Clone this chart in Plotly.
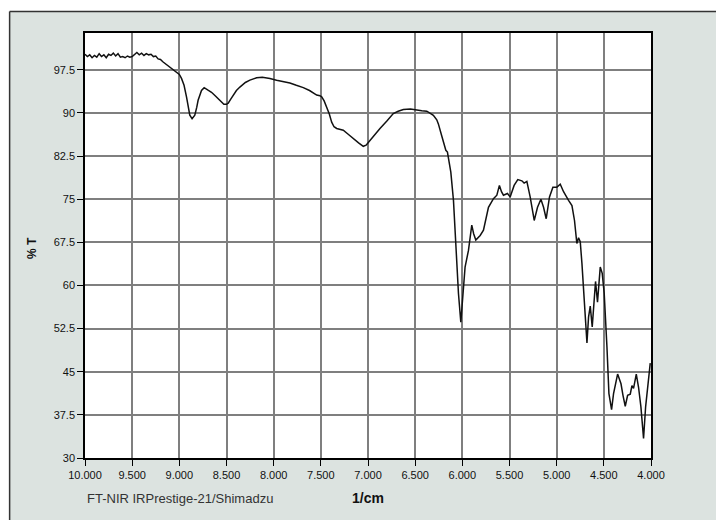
import plotly.graph_objects as go

# Wavenumbers (1/cm) and transmittance (%T)
wavenumber = [10000, 9975, 9950, 9925, 9900, 9875, 9850, 9825, 9800, 9775, 9750, 9725, 9700, 9675,
              9650, 9625, 9600, 9575, 9550, 9525, 9500, 9475, 9450, 9425, 9400, 9375, 9350, 9325,
              9300, 9275, 9250, 9225, 9200, 9175, 9150, 9125, 9100, 9075, 9050, 9030, 9000, 8977,
              8950, 8924, 8900, 8889, 8865, 8836, 8815, 8801, 8765, 8737, 8700, 8659, 8620, 8589,
              8555, 8528, 8500, 8482, 8455, 8429, 8395, 8358, 8300, 8252, 8181, 8120, 8075, 8040,
              7969, 7900, 7828, 7760, 7686, 7620, 7544, 7510, 7491, 7465, 7438, 7410, 7385, 7360,
              7332, 7262, 7210, 7156, 7100, 7050, 7020, 6979, 6930, 6873, 6800, 6732, 6680, 6625,
              6550, 6483, 6430, 6377, 6340, 6307, 6271, 6254, 6218, 6190, 6175, 6158, 6140, 6122,
              6094, 6066, 6041, 6016, 5995, 5971, 5935, 5900, 5880, 5857, 5811, 5776, 5723, 5670,
              5634, 5607, 5585, 5564, 5522, 5493, 5451, 5412, 5369, 5345, 5316, 5281, 5238, 5203,
              5167, 5139, 5111, 5076, 5040, 4998, 4962, 4927, 4874, 4838, 4811, 4786, 4768, 4750,
              4732, 4708, 4679, 4662, 4644, 4623, 4602, 4588, 4567, 4538, 4517, 4496, 4467, 4446,
              4418, 4397, 4354, 4318, 4297, 4273, 4248, 4220, 4202, 4185, 4156, 4132, 4107, 4079,
              4057, 4032, 4008]
transmittance = [100.2, 99.8, 100.1, 99.6, 100.0, 99.7, 100.3, 99.8, 100.1, 99.6, 100.2, 100.0, 100.4, 99.9,
                 100.3, 99.7, 99.8, 99.6, 99.9, 99.7, 99.8, 100.2, 100.5, 100.1, 100.4, 100.0, 100.3, 100.1,
                 100.2, 99.8, 99.9, 99.4, 99.3, 98.9, 98.6, 98.2, 98.0, 97.7, 97.4, 97.1, 96.7, 96.0,
                 94.8, 92.8, 90.5, 89.6, 89.0, 89.6, 91.0, 92.2, 93.9, 94.4, 94.0, 93.6, 93.0, 92.5,
                 91.9, 91.5, 91.5, 91.7, 92.4, 93.1, 93.9, 94.5, 95.3, 95.7, 96.1, 96.2, 96.1, 96.0,
                 95.7, 95.5, 95.2, 94.8, 94.4, 93.9, 93.1, 93.0, 92.8, 92.1, 91.0, 89.8, 88.4, 87.6,
                 87.3, 87.0, 86.3, 85.5, 84.8, 84.2, 84.4, 85.2, 86.2, 87.3, 88.6, 89.9, 90.3, 90.6,
                 90.7, 90.6, 90.4, 90.3, 90.0, 89.6, 88.8, 88.1, 86.0, 84.0, 83.5, 83.2, 81.5, 79.7,
                 74.8, 66.1, 58.6, 53.6, 58.6, 63.2, 66.1, 70.5, 69.0, 67.9, 68.7, 69.6, 73.6, 75.1,
                 75.7, 77.4, 76.3, 75.7, 76.0, 75.4, 77.4, 78.4, 78.2, 77.8, 78.1, 75.4, 71.3, 73.6,
                 75.0, 73.6, 71.6, 75.4, 77.1, 77.1, 77.6, 76.3, 74.8, 73.9, 71.3, 67.3, 68.3, 67.6,
                 63.8, 56.8, 50.0, 54.5, 56.4, 52.8, 58.6, 60.7, 57.1, 63.2, 62.1, 58.6, 49.3, 41.2,
                 38.4, 41.2, 44.6, 42.9, 40.9, 39.0, 40.9, 41.1, 42.6, 42.1, 44.6, 42.3, 38.9, 33.4,
                 38.9, 42.9, 46.5]

x_tickvals = [10000, 9500, 9000, 8500, 8000, 7500, 7000, 6500, 6000, 5500, 5000, 4500, 4000]
x_ticktext = ["10.000", "9.500", "9.000", "8.500", "8.000", "7.500", "7.000", "6.500",
              "6.000", "5.500", "5.000", "4.500", "4.000"]
y_tickvals = [30, 37.5, 45, 52.5, 60, 67.5, 75, 82.5, 90, 97.5]
y_ticktext = ["30", "37.5", "45", "52.5", "60", "67.5", "75", "82.5", "90", "97.5"]

W, H = 716, 520
# plot-area edges in pixels
L, R, T, B = 85.3, 650.7, 32.5, 457.7
pw, ph = R - L, B - T

def px(xs):
    """pixel x -> paper coordinate"""
    return (xs - L) / pw

def py(ys):
    """pixel y -> paper coordinate"""
    return (B - ys) / ph

PANEL = "#dce3e0"
tick_font = dict(family="Liberation Sans Narrow, Liberation Sans, sans-serif", size=11, color="#111")

fig = go.Figure()
fig.add_trace(go.Scatter(x=wavenumber, y=transmittance, mode="lines",
                         line=dict(color="#111111", width=1.5), showlegend=False,
                         hoverinfo="x+y"))

grid = dict(showgrid=True, gridcolor="#7f7f7f", gridwidth=1.5, zeroline=False,
            showline=True, linecolor="#000", linewidth=1.5, mirror=True,
            ticks="outside", ticklen=6, tickcolor="#000", tickwidth=1.2,
            tickfont=tick_font)

fig.update_layout(
    width=W, height=H,
    margin=dict(l=L, r=W - R, t=T, b=H - B, autoexpand=False),
    paper_bgcolor=PANEL, plot_bgcolor="white",
    xaxis=dict(range=[10000, 4000], tickvals=x_tickvals, ticktext=x_ticktext, **grid),
    yaxis=dict(range=[30, 103.9], tickvals=y_tickvals, ticktext=y_ticktext, **grid),
    shapes=[
        dict(type="rect", xref="paper", yref="paper", x0=px(-20), x1=px(W + 20),
             y0=py(11), y1=py(-20), fillcolor="white", line_width=0, layer="below"),
        dict(type="rect", xref="paper", yref="paper", x0=px(-20), x1=px(10),
             y0=py(H + 20), y1=py(-20), fillcolor="white", line_width=0, layer="below"),
        dict(type="line", xref="paper", yref="paper", x0=px(10), x1=px(W + 20),
             y0=py(11), y1=py(11), line=dict(color="#333", width=1.5)),
        dict(type="line", xref="paper", yref="paper", x0=px(10), x1=px(10),
             y0=py(11), y1=py(H + 20), line=dict(color="#333", width=1.5)),
    ],
    annotations=[
        dict(text="<b>% T</b>", xref="paper", yref="paper", x=px(33), y=py(248),
             textangle=-90, showarrow=False, xanchor="center", yanchor="middle",
             font=dict(family="Liberation Sans, Arial, sans-serif", size=12, color="#111")),
        dict(text="<b>1/cm</b>", xref="paper", yref="paper", x=px(368), y=py(498),
             showarrow=False, xanchor="center", yanchor="middle",
             font=dict(family="Liberation Sans, Arial, sans-serif", size=14, color="#111")),
        dict(text="FT-NIR IRPrestige-21/Shimadzu", xref="paper", yref="paper", x=px(85), y=py(498),
             showarrow=False, xanchor="left", yanchor="middle",
             font=dict(family="Liberation Sans Narrow, Liberation Sans, sans-serif", size=13, color="#333")),
    ],
)

fig.write_html("out.html", config={"displayModeBar": False},
               post_script="document.body.style.margin='0';document.body.style.overflow='hidden';")
